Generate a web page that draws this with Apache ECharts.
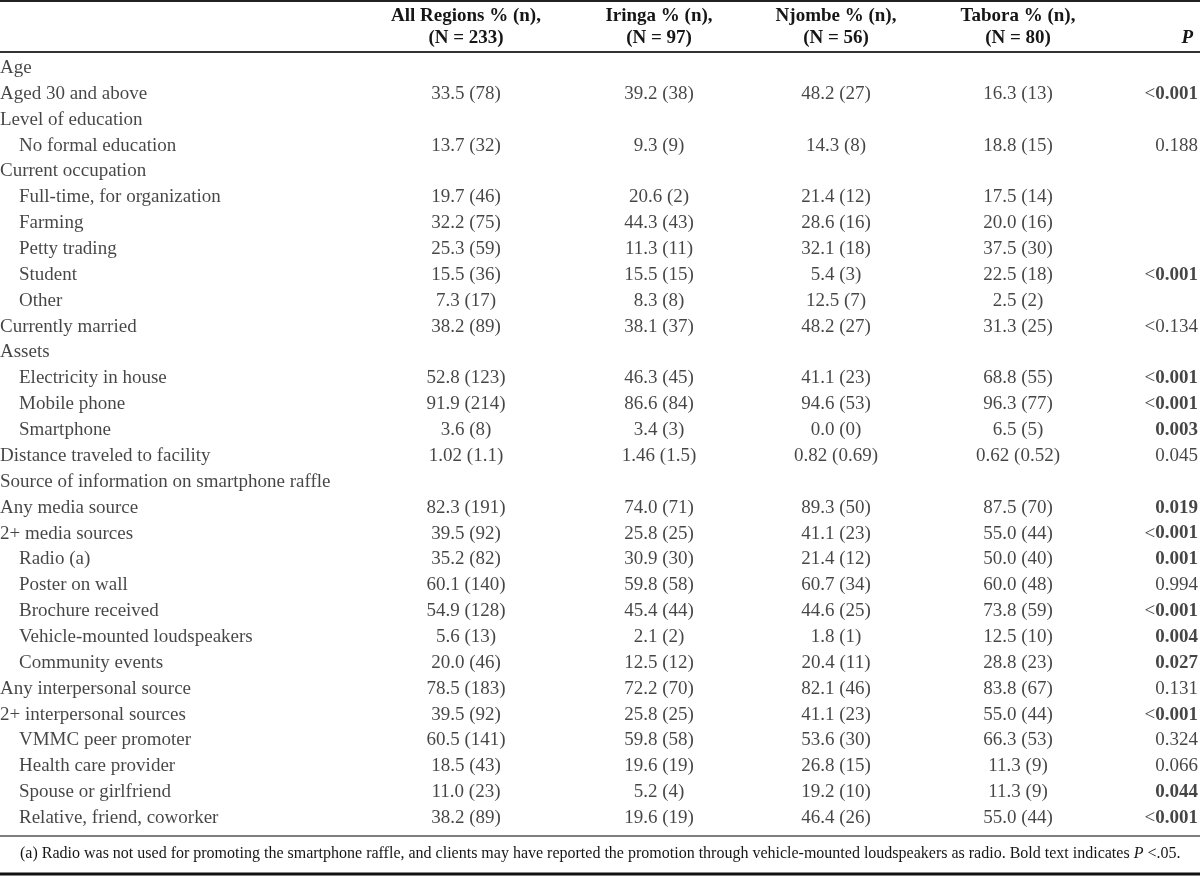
<!DOCTYPE html>
<html>
<head>
<meta charset="utf-8">
<script src="https://cdn.jsdelivr.net/npm/echarts@6/dist/echarts.min.js"></script>
<style>html,body{margin:0;padding:0;background:#fff;}#c{width:1200px;height:880px;}</style>
</head>
<body>
<div id="c"></div>
<script>
const rowLabels = ["Age","Aged 30 and above","Level of education","No formal education","Current occupation","Full-time, for organization","Farming","Petty trading","Student","Other","Currently married","Assets","Electricity in house","Mobile phone","Smartphone","Distance traveled to facility","Source of information on smartphone raffle","Any media source","2+ media sources","Radio (a)","Poster on wall","Brochure received","Vehicle-mounted loudspeakers","Community events","Any interpersonal source","2+ interpersonal sources","VMMC peer promoter","Health care provider","Spouse or girlfriend","Relative, friend, coworker"];
const indented = [0,0,0,1,0,1,1,1,1,1,0,0,1,1,1,0,0,0,0,1,1,1,1,1,0,0,1,1,1,1];
const allRegions = ["","33.5 (78)","","13.7 (32)","","19.7 (46)","32.2 (75)","25.3 (59)","15.5 (36)","7.3 (17)","38.2 (89)","","52.8 (123)","91.9 (214)","3.6 (8)","1.02 (1.1)","","82.3 (191)","39.5 (92)","35.2 (82)","60.1 (140)","54.9 (128)","5.6 (13)","20.0 (46)","78.5 (183)","39.5 (92)","60.5 (141)","18.5 (43)","11.0 (23)","38.2 (89)"];
const iringa = ["","39.2 (38)","","9.3 (9)","","20.6 (2)","44.3 (43)","11.3 (11)","15.5 (15)","8.3 (8)","38.1 (37)","","46.3 (45)","86.6 (84)","3.4 (3)","1.46 (1.5)","","74.0 (71)","25.8 (25)","30.9 (30)","59.8 (58)","45.4 (44)","2.1 (2)","12.5 (12)","72.2 (70)","25.8 (25)","59.8 (58)","19.6 (19)","5.2 (4)","19.6 (19)"];
const njombe = ["","48.2 (27)","","14.3 (8)","","21.4 (12)","28.6 (16)","32.1 (18)","5.4 (3)","12.5 (7)","48.2 (27)","","41.1 (23)","94.6 (53)","0.0 (0)","0.82 (0.69)","","89.3 (50)","41.1 (23)","21.4 (12)","60.7 (34)","44.6 (25)","1.8 (1)","20.4 (11)","82.1 (46)","41.1 (23)","53.6 (30)","26.8 (15)","19.2 (10)","46.4 (26)"];
const tabora = ["","16.3 (13)","","18.8 (15)","","17.5 (14)","20.0 (16)","37.5 (30)","22.5 (18)","2.5 (2)","31.3 (25)","","68.8 (55)","96.3 (77)","6.5 (5)","0.62 (0.52)","","87.5 (70)","55.0 (44)","50.0 (40)","60.0 (48)","73.8 (59)","12.5 (10)","28.8 (23)","83.8 (67)","55.0 (44)","66.3 (53)","11.3 (9)","11.3 (9)","55.0 (44)"];
const pValues = ["","<0.001","","0.188","","","","","<0.001","","<0.134","","<0.001","<0.001","0.003","0.045","","0.019","<0.001","0.001","0.994","<0.001","0.004","0.027","0.131","<0.001","0.324","0.066","0.044","<0.001"];
const pBold = [0,1,0,0,0,0,0,0,1,0,0,0,1,1,1,0,0,1,1,1,0,1,1,1,0,1,0,0,1,1];
const headers = [["All Regions % (n),","(N = 233)"],["Iringa % (n),","(N = 97)"],["Njombe % (n),","(N = 56)"],["Tabora % (n),","(N = 80)"]];
const footnote = "(a) Radio was not used for promoting the smartphone raffle, and clients may have reported the promotion through vehicle-mounted loudspeakers as radio. Bold text indicates ";

// layout
const FONT = '"Liberation Serif","Times New Roman",serif';
const colX = [466, 659, 836, 1018];
const pX = 1198;
const INK = '#161616';
const FS = 19;

const chart = echarts.init(document.getElementById('c'), null, {renderer:'canvas'});

function colSeries(vals, x) {
  return {
    type:'scatter', symbolSize:0, silent:true,
    data: vals.map((v,i)=>[x,i,v]).filter(d=>d[2]!==''),
    label:{show:true, position:'inside', align:'center', verticalAlign:'middle',
      formatter:p=>p.data[2], color:INK, fontFamily:FONT, fontSize:FS}
  };
}

const series = [
  {
    type:'scatter', symbolSize:0, silent:true,
    data: rowLabels.map((v,i)=>[indented[i]?19:0,i,v]),
    label:{show:true, position:'right', distance:0, verticalAlign:'middle',
      formatter:p=>p.data[2], color:INK, fontFamily:FONT, fontSize:FS}
  },
  colSeries(allRegions, colX[0]),
  colSeries(iringa, colX[1]),
  colSeries(njombe, colX[2]),
  colSeries(tabora, colX[3]),
  {
    type:'scatter', symbolSize:0, silent:true,
    data: pValues.map((v,i)=>[pX,i,v,pBold[i]]).filter(d=>d[2]!==''),
    label:{show:true, position:'left', distance:0, verticalAlign:'middle',
      formatter:p=>{
        const s=p.data[2];
        if(!p.data[3]) return '{n|'+s+'}';
        if(s[0]==='<') return '{n|<}{b|'+s.slice(1)+'}';
        return '{b|'+s+'}';
      },
      rich:{
        n:{color:INK, fontFamily:FONT, fontSize:FS},
        b:{color:INK, fontFamily:FONT, fontSize:FS, fontWeight:'bold'}
      }}
  }
];

const graphic = [];
headers.forEach((h,k)=>{
  graphic.push({type:'text', x:colX[k], y:16, style:{text:h[0], fill:INK, font:'bold '+FS+'px '+FONT, textAlign:'center', textVerticalAlign:'middle'}});
  graphic.push({type:'text', x:colX[k], y:38, style:{text:h[1], fill:INK, font:'bold '+FS+'px '+FONT, textAlign:'center', textVerticalAlign:'middle'}});
});
graphic.push({type:'text', x:1193, y:38, style:{text:'P', fill:INK, font:'italic bold '+FS+'px '+FONT, textAlign:'right', textVerticalAlign:'middle'}});
graphic.push({type:'line', shape:{x1:0,y1:1,x2:1200,y2:1}, style:{stroke:'#222', lineWidth:2}});
graphic.push({type:'line', shape:{x1:0,y1:52,x2:1200,y2:52}, style:{stroke:'#333', lineWidth:2}});
graphic.push({type:'line', shape:{x1:0,y1:836,x2:1200,y2:836}, style:{stroke:'#555', lineWidth:1.5}});
graphic.push({type:'line', shape:{x1:0,y1:874,x2:1200,y2:874}, style:{stroke:'#111', lineWidth:3}});
graphic.push({type:'text', x:20, y:854, style:{rich:{n:{fontFamily:FONT,fontSize:16,fill:INK},i:{fontFamily:FONT,fontSize:16,fontStyle:'italic',fill:INK}}, text:'{n|'+footnote+'}{i|P}{n| <.05.}', textVerticalAlign:'middle'}});

chart.setOption({
  animation:false,
  grid:{left:0, right:0, top:55, bottom:49, containLabel:false},
  xAxis:{type:'value', min:0, max:1200, show:false},
  yAxis:{type:'category', data:rowLabels.map((_,i)=>i), inverse:true, show:false},
  series, graphic
});
</script>
</body>
</html>
